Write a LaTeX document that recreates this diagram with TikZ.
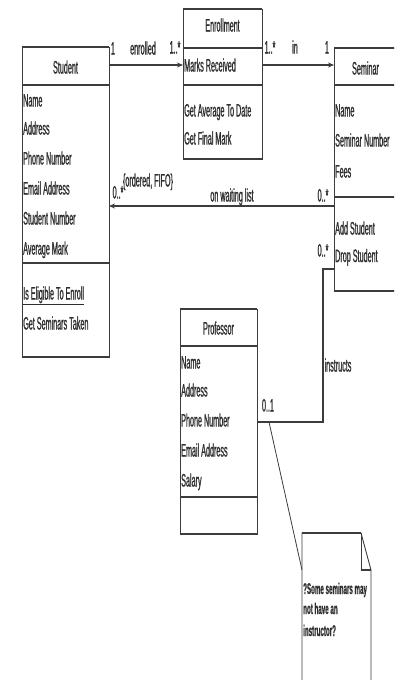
\documentclass[tikz,border=0pt]{standalone}
\usepackage{fontspec}
\setmainfont{Liberation Sans}[FakeStretch=0.4,FakeBold=0.8]
\usetikzlibrary{arrows.meta}
\definecolor{ln}{HTML}{3C3C3C}
\definecolor{txt}{HTML}{2E2E2E}
\begin{document}
\begin{tikzpicture}[x=1pt,y=-1pt,
  box/.style={inner sep=0,outer sep=0,anchor=north west,draw=none},
  frame/.style={draw=ln,line width=0.9pt},
  sepline/.style={draw=ln,line width=1.8pt},
  assoc/.style={draw=ln,line width=1.6pt},
  tip/.style={-{Stealth[length=6pt,width=5pt]}},
  attr/.style={anchor=base west,inner sep=0,text=txt,font=\fontsize{18}{20}\selectfont},
  hdr/.style={anchor=base,inner sep=0,text=txt,font=\fontsize{18}{20}\selectfont},
  notetxt/.style={anchor=base west,inner sep=0,text=txt,font=\fontsize{15.5}{20}\selectfont\bfseries}]
\useasboundingbox (0,0) rectangle (394,680);
\clip (0,0) rectangle (394,680);

% ---------- boxes ----------
\node[box,minimum width=87pt,minimum height=310pt] (student) at (22,47) {};
\node[box,minimum width=79pt,minimum height=150pt] (enroll) at (183,9) {};
\node[box,minimum width=63pt,minimum height=243pt] (seminar) at (334,48) {};
\node[box,minimum width=77pt,minimum height=225pt] (prof) at (180,309) {};
\node[box,minimum width=69pt,minimum height=160pt] (note) at (302,533) {};

% Student
\draw[frame] (student.north west) rectangle (student.south east);
\draw[sepline] (student.north west) -- (student.north east);
\draw[sepline] ([yshift=-38pt]student.north west) -- ([yshift=-38pt]student.north east);
\draw[sepline] ([yshift=-216pt]student.north west) -- ([yshift=-216pt]student.north east);
\draw[sepline] (student.south west) -- (student.south east);
% Enrollment
\draw[frame] (enroll.north west) rectangle (enroll.south east);
\draw[sepline] (enroll.north west) -- (enroll.north east);
\draw[sepline] ([yshift=-39pt]enroll.north west) -- ([yshift=-39pt]enroll.north east);
\draw[sepline] ([yshift=-76pt]enroll.north west) -- ([yshift=-76pt]enroll.north east);
\draw[sepline] (enroll.south west) -- (enroll.south east);
% Seminar
\draw[frame] (seminar.north west) rectangle (seminar.south east);
\draw[sepline] (seminar.north west) -- (seminar.north east);
\draw[sepline] ([yshift=-37pt]seminar.north west) -- ([yshift=-37pt]seminar.north east);
\draw[sepline] ([yshift=-149pt]seminar.north west) -- ([yshift=-149pt]seminar.north east);
\draw[sepline] (seminar.south west) -- (seminar.south east);
% Professor
\draw[frame] (prof.north west) rectangle (prof.south east);
\draw[sepline] (prof.north west) -- (prof.north east);
\draw[sepline] ([yshift=-37pt]prof.north west) -- ([yshift=-37pt]prof.north east);
\draw[sepline] ([yshift=-188pt]prof.north west) -- ([yshift=-188pt]prof.north east);
\draw[sepline] (prof.south west) -- (prof.south east);
% Note
\draw[frame] (note.south west) -- (note.north west) -- ([xshift=-10pt]note.north east)
  -- ([yshift=-37pt]note.north east) -- (note.south east);
\draw[sepline] (note.north west) -- ([xshift=-10pt]note.north east);
\draw[frame] ([xshift=-10pt]note.north east) -- ([xshift=-10pt,yshift=-37pt]note.north east);
\draw[sepline] ([xshift=-10pt,yshift=-37pt]note.north east) -- ([yshift=-37pt]note.north east);

% ---------- texts ----------
\node[hdr] (sth) at (65.5,73.5) {Student};
\node[attr] (st1) at (23,106.5) {Name};
\node[attr] (st2) at (23,134.5) {Address};
\node[attr] (st3) at (23,164.5) {Phone Number};
\node[attr] (st4) at (23,194.5) {Email Address};
\node[attr] (st5) at (23,224.5) {Student Number};
\node[attr] (st6) at (23,254.5) {Average Mark};
\node[attr] (st7) at (23,299.5) {\underline{Is Eligible To Enroll}};
\node[attr] (st8) at (23,329.5) {Get Seminars Taken};

\node[hdr] (enh) at (222.5,31.5) {Enrollment};
\node[attr] (en1) at (184,71.5) {Marks Received};
\node[attr] (en2) at (184,116.5) {Get Average To Date};
\node[attr] (en3) at (184,144.5) {Get Final Mark};

\node[hdr] (seh) at (365.5,74.5) {Seminar};
\node[attr] (se1) at (335,116.5) {Name};
\node[attr] (se2) at (335,146.5) {Seminar Number};
\node[attr] (se3) at (335,177.5) {Fees};
\node[attr] (se4) at (335,234.5) {Add Student};
\node[attr] (se5) at (335,262) {Drop Student};

\node[hdr] (prh) at (218.5,334.5) {Professor};
\node[attr] (pr1) at (181,368.5) {Name};
\node[attr] (pr2) at (181,396.5) {Address};
\node[attr] (pr3) at (181,426.5) {Phone Number};
\node[attr] (pr4) at (181,456.5) {Email Address};
\node[attr] (pr5) at (181,486.5) {Salary};

\node[notetxt] (nt1) at (303,594) {?Some seminars may};
\node[notetxt] (nt2) at (303,614) {not have an};
\node[notetxt] (nt3) at (303,636) {instructor?};

% ---------- connectors ----------
\draw[assoc,tip] ([yshift=-18pt]student.north east) -- ([yshift=-56pt]enroll.north west);
\draw[assoc,tip] ([yshift=-56pt]enroll.north east) -- ([yshift=-17pt]seminar.north west);
\draw[assoc,tip] ([yshift=-158pt]seminar.north west) -- ([yshift=-159pt]student.north east);
\draw[assoc] ([yshift=-221pt]seminar.north west) -- ++(-11,0) coordinate (bend)
  |- ([yshift=-113pt]prof.north east);
\coordinate (nattach) at ([xshift=12pt,yshift=-113pt]prof.north east);
\draw[draw=ln,line width=0.8pt] (nattach) -- ([yshift=-37pt]note.north west);

% ---------- labels ----------
\node[hdr] (l1) at (113,54.5) {1};
\node[hdr] (l2) at (143,54.5) {enrolled};
\node[hdr] (l3) at (175,53.5) {1..*};
\node[hdr] (l4) at (270,53.5) {1..*};
\node[hdr] (l5) at (295,53.5) {in};
\node[hdr] (l6) at (327,53.5) {1};
\node[hdr] (l7) at (148,186.5) {\{ordered, FIFO\}};
\node[hdr] (l8) at (118,198.5) {0..*};
\node[hdr] (l9) at (232,201.5) {on waiting list};
\node[hdr] (l10) at (323,201.5) {0..*};
\node[hdr] (l11) at (323,256.5) {0..*};
\node[hdr] (l12) at (338,371.5) {instructs};
\node[hdr] (l13) at (268,411.5) {0..1};
\end{tikzpicture}
\end{document}
